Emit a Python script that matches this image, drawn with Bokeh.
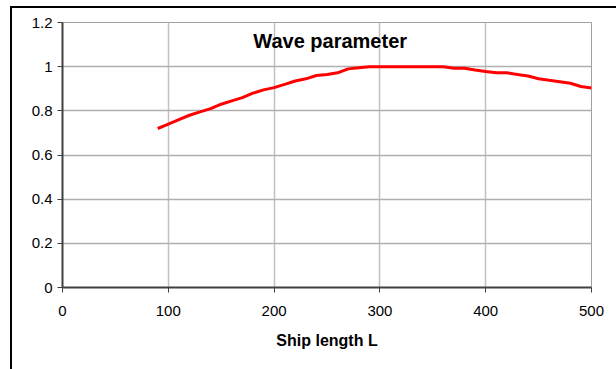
from bokeh.plotting import figure
from bokeh.models import FixedTicker, Label, ColumnDataSource, InlineStyleSheet
from bokeh.embed import file_html
from bokeh.resources import INLINE

# Data
ship_length = [90, 100, 110, 120, 130, 140, 150, 160, 170, 180, 190, 200, 210, 220, 230, 240,
               250, 260, 270, 280, 290, 300, 310, 320, 330, 340, 350, 360, 370, 380, 390, 400,
               410, 420, 430, 440, 450, 460, 470, 480, 490, 500]
wave_param = [0.72, 0.74, 0.76, 0.78, 0.795, 0.81, 0.83, 0.845, 0.86, 0.88, 0.895, 0.905, 0.92, 0.935,
              0.945, 0.96, 0.965, 0.972, 0.99, 0.995, 1.0, 1.0, 1.0, 1.0, 1.0, 1.0, 1.0, 1.0,
              0.993, 0.993, 0.985, 0.978, 0.972, 0.972, 0.965, 0.958, 0.945, 0.938, 0.932, 0.925,
              0.91, 0.903]
x_ticks = [0, 100, 200, 300, 400, 500]
y_ticks = [0, 0.2, 0.4, 0.6, 0.8, 1.0, 1.2]
y_tick_labels = ["0", "0.2", "0.4", "0.6", "0.8", "1", "1.2"]
title_text = "Wave parameter"
x_label = "Ship length L"

FONT = "Liberation Sans"

frame_css = InlineStyleSheet(css="""
:host { position: relative; }
:host::after {
  content: "";
  position: absolute;
  left: 10px; top: 6px; right: 0px; bottom: 0px;
  border-left: 2px solid black;
  border-top: 2px solid black;
  pointer-events: none;
  z-index: 10;
}
""")

p = figure(width=616, height=369, output_backend="svg", toolbar_location=None,
           x_range=(0, 500), y_range=(0, 1.2),
           min_border_left=62, min_border_right=25, min_border_top=22, min_border_bottom=82,
           stylesheets=[frame_css])
p.background_fill_color = "white"
p.border_fill_color = "white"
p.outline_line_color = "#a0a0a0"
p.outline_line_width = 1

src = ColumnDataSource(dict(x=ship_length, y=wave_param))
p.line("x", "y", source=src, line_color="#ff0000", line_width=3)

for ax in (p.xaxis[0], p.yaxis[0]):
    ax.axis_line_color = "#404040"
    ax.axis_line_width = 2
    ax.major_tick_line_color = "#404040"
    ax.major_tick_line_width = 1
    ax.major_tick_out = 5
    ax.major_tick_in = 0
    ax.minor_tick_line_color = None
    ax.major_label_text_font = FONT
    ax.major_label_text_font_size = "15px"
    ax.major_label_text_color = "black"

p.xaxis[0].ticker = FixedTicker(ticks=x_ticks)
p.yaxis[0].ticker = FixedTicker(ticks=y_ticks)
p.yaxis[0].major_label_overrides = dict(zip(y_ticks, y_tick_labels))
p.xaxis[0].major_label_standoff = 13
p.yaxis[0].major_label_standoff = 5

p.xaxis[0].axis_label = x_label
p.xaxis[0].axis_label_text_font = FONT
p.xaxis[0].axis_label_text_font_style = "bold"
p.xaxis[0].axis_label_text_font_size = "16px"
p.xaxis[0].axis_label_text_color = "black"
p.xaxis[0].axis_label_standoff = 13

p.xgrid.ticker = FixedTicker(ticks=x_ticks)
p.ygrid.ticker = FixedTicker(ticks=y_ticks)
p.xgrid.grid_line_color = "#c0c0c0"
p.ygrid.grid_line_color = "#b0b0b0"
p.xgrid.grid_line_width = 1.5
p.ygrid.grid_line_width = 1.5

title = Label(x=253, y=1.118, text=title_text, text_align="center", text_baseline="middle",
              text_font=FONT, text_font_style="bold", text_font_size="20px", text_color="black")
p.add_layout(title)

open("out.html", "w").write(file_html(p, INLINE))
